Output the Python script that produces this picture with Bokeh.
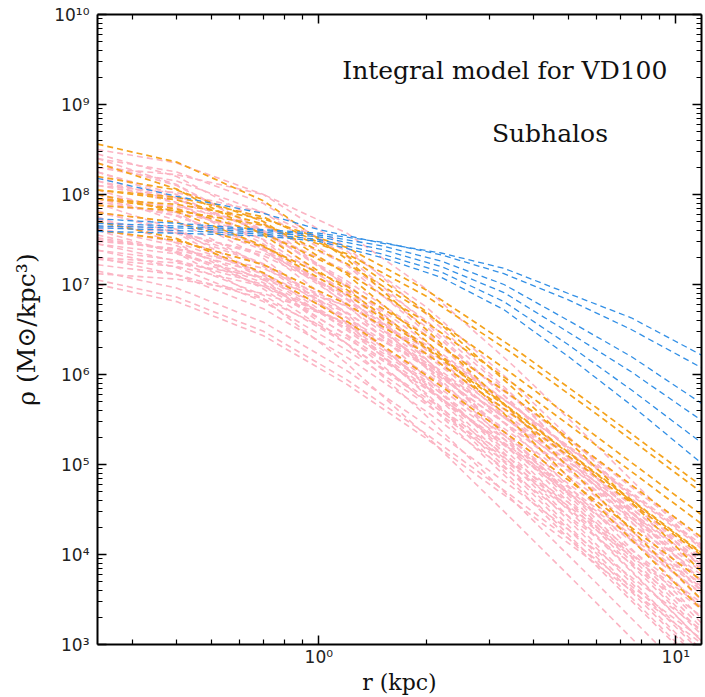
import numpy as np
from bokeh.plotting import figure
from bokeh.models import LogAxis, FixedTicker, CustomJSTickFormatter, Label, Range1d
from bokeh.embed import file_html
from bokeh.resources import INLINE

r_model = [0.24, 0.4, 0.7, 1.2, 2.0, 3.5, 6.0, 12.0]
r_blue = [0.24, 0.4, 0.7, 1.0, 1.5, 2.2, 3.3, 5.0, 7.5, 12.0]

# log10 density (Msun/kpc^3), pink subhalos
pink_log_rho = [
    [8.50, 8.35, 8.00, 7.41, 6.67, 5.77, 4.85, 3.66],
    [8.45, 8.20, 7.69, 6.97, 6.17, 5.23, 4.31, 3.11],
    [8.40, 8.11, 7.60, 6.99, 6.36, 5.65, 4.95, 4.05],
    [8.30, 8.22, 8.00, 7.57, 6.95, 6.10, 5.21, 4.03],
    [8.30, 8.15, 7.80, 7.21, 6.47, 5.57, 4.65, 3.46],
    [8.25, 8.00, 7.49, 6.77, 5.97, 5.03, 4.11, 2.91],
    [8.20, 7.91, 7.40, 6.79, 6.16, 5.45, 4.75, 3.85],
    [8.15, 7.96, 7.58, 7.04, 6.44, 5.74, 5.04, 4.14],
    [8.10, 8.02, 7.80, 7.37, 6.75, 5.90, 5.01, 3.83],
    [8.10, 7.95, 7.60, 7.01, 6.27, 5.37, 4.45, 3.26],
    [8.05, 7.80, 7.29, 6.57, 5.77, 4.83, 3.91, 2.71],
    [7.80, 7.69, 7.42, 6.98, 6.43, 5.75, 5.06, 4.17],
    [8.00, 7.71, 7.20, 6.59, 5.96, 5.25, 4.55, 3.65],
    [7.95, 7.76, 7.38, 6.84, 6.24, 5.54, 4.84, 3.94],
    [7.92, 7.77, 7.42, 6.83, 6.09, 5.19, 4.27, 3.08],
    [7.88, 7.80, 7.58, 7.15, 6.53, 5.68, 4.79, 3.61],
    [7.70, 7.59, 7.32, 6.88, 6.33, 5.65, 4.96, 4.07],
    [7.82, 7.57, 7.06, 6.34, 5.54, 4.60, 3.68, 2.48],
    [7.80, 7.61, 7.23, 6.69, 6.09, 5.39, 4.69, 3.79],
    [7.75, 7.46, 6.95, 6.34, 5.71, 5.00, 4.30, 3.40],
    [7.72, 7.57, 7.22, 6.63, 5.89, 4.99, 4.07, 2.88],
    [7.60, 7.49, 7.22, 6.78, 6.23, 5.55, 4.86, 3.97],
    [7.65, 7.57, 7.35, 6.92, 6.30, 5.45, 4.56, 3.38],
    [7.62, 7.43, 7.05, 6.51, 5.91, 5.21, 4.51, 3.61],
    [7.60, 7.35, 6.84, 6.12, 5.32, 4.38, 3.46, 2.26],
    [7.50, 7.39, 7.12, 6.68, 6.13, 5.45, 4.76, 3.87],
    [7.52, 7.37, 7.02, 6.43, 5.69, 4.79, 3.87, 2.68],
    [7.45, 7.26, 6.88, 6.34, 5.74, 5.04, 4.34, 3.44],
    [7.30, 7.24, 7.08, 6.76, 6.29, 5.65, 4.98, 4.09],
    [7.38, 7.27, 7.00, 6.56, 6.01, 5.33, 4.64, 3.75],
    [7.30, 7.11, 6.73, 6.19, 5.59, 4.89, 4.19, 3.29],
    [7.28, 7.20, 6.98, 6.55, 5.93, 5.08, 4.19, 3.01],
    [7.22, 7.11, 6.84, 6.40, 5.85, 5.17, 4.48, 3.59],
    [7.15, 6.96, 6.58, 6.04, 5.44, 4.74, 4.04, 3.14],
    [7.12, 7.06, 6.90, 6.58, 6.11, 5.47, 4.80, 3.91],
    [7.05, 6.86, 6.48, 5.94, 5.34, 4.64, 3.94, 3.04],
    [7.00, 6.81, 6.43, 5.89, 5.29, 4.59, 3.89, 2.99],
    [8.40, 8.25, 7.90, 7.31, 6.57, 5.67, 4.75, 3.56],
    [8.35, 8.10, 7.59, 6.87, 6.07, 5.13, 4.21, 3.01],
    [8.25, 7.96, 7.45, 6.84, 6.21, 5.50, 4.80, 3.90],
    [7.95, 7.87, 7.65, 7.22, 6.60, 5.75, 4.86, 3.68],
    [7.70, 7.51, 7.13, 6.59, 5.99, 5.29, 4.59, 3.69],
    [7.62, 7.47, 7.12, 6.53, 5.79, 4.89, 3.97, 2.78],
    [7.45, 7.34, 7.07, 6.63, 6.08, 5.40, 4.71, 3.82],
    [7.90, 7.61, 7.10, 6.49, 5.86, 5.15, 4.45, 3.55],
    [8.15, 7.90, 7.39, 6.67, 5.87, 4.93, 4.01, 2.81],
    [7.38, 7.19, 6.81, 6.27, 5.67, 4.97, 4.27, 3.37],
    [7.48, 7.40, 7.18, 6.75, 6.13, 5.28, 4.39, 3.21],
    [8.00, 7.85, 7.50, 6.91, 6.17, 5.27, 4.35, 3.16],
    [7.55, 7.36, 6.98, 6.44, 5.84, 5.14, 4.44, 3.54],
]

# log10 density, orange subhalos
orange_log_rho = [
    [8.56, 8.36, 7.93, 7.28, 6.50, 5.58, 4.66, 3.47],
    [8.35, 8.06, 7.55, 6.94, 6.31, 5.60, 4.90, 4.00],
    [7.95, 7.89, 7.73, 7.41, 6.94, 6.30, 5.63, 4.74],
    [8.05, 7.94, 7.67, 7.23, 6.68, 6.00, 5.31, 4.42],
    [7.88, 7.82, 7.66, 7.34, 6.87, 6.23, 5.56, 4.67],
    [7.80, 7.69, 7.42, 6.98, 6.43, 5.75, 5.06, 4.17],
    [8.00, 7.81, 7.43, 6.89, 6.29, 5.59, 4.89, 3.99],
    [7.95, 7.84, 7.57, 7.13, 6.58, 5.90, 5.21, 4.32],
    [8.05, 7.97, 7.75, 7.32, 6.70, 5.85, 4.96, 3.78],
    [8.20, 8.05, 7.70, 7.11, 6.37, 5.47, 4.55, 3.36],
    [7.70, 7.51, 7.13, 6.59, 5.99, 5.29, 4.59, 3.69],
    [7.60, 7.49, 7.22, 6.78, 6.23, 5.55, 4.86, 3.97],
]

# log10 density, blue subhalos
blue_log_rho = [
    [8.18, 7.98, 7.79, 7.61, 7.46, 7.35, 7.18, 6.90, 6.63, 6.20],
    [7.73, 7.68, 7.61, 7.57, 7.47, 7.33, 7.12, 6.83, 6.50, 6.06],
    [7.68, 7.65, 7.60, 7.55, 7.43, 7.26, 7.00, 6.60, 6.20, 5.66],
    [7.65, 7.63, 7.58, 7.53, 7.39, 7.20, 6.91, 6.47, 6.03, 5.47],
    [7.63, 7.60, 7.56, 7.50, 7.34, 7.14, 6.81, 6.33, 5.83, 5.22],
    [7.59, 7.57, 7.54, 7.48, 7.30, 7.08, 6.72, 6.20, 5.66, 4.99],
]

x_major = [1, 10]
x_minor = [0.3, 0.4, 0.5, 0.6, 0.7, 0.8, 0.9, 2, 3, 4, 5, 6, 7, 8, 9]
y_major = [10.0 ** k for k in range(3, 11)]
y_minor = [m * 10.0 ** k for k in range(3, 10) for m in range(2, 10)]

PINK = "#fbb5c4"
ORANGE = "#f4a31e"
BLUE = "#3390e6"

p = figure(
    width=705, height=697,
    x_axis_type="log", y_axis_type="log",
    x_range=Range1d(0.24, 11.8), y_range=Range1d(1e3, 1e10),
    output_backend="svg", toolbar_location=None,
    min_border_left=97, min_border_right=3, min_border_top=14, min_border_bottom=50,
)
p.background_fill_color = "white"
p.border_fill_color = "white"
p.outline_line_color = None
p.xgrid.visible = False
p.ygrid.visible = False

for row in pink_log_rho:
    p.line(r_model, [10.0 ** v for v in row], line_color=PINK, line_width=1.6,
           line_dash="6 4")
for row in orange_log_rho:
    p.line(r_model, [10.0 ** v for v in row], line_color=ORANGE, line_width=1.7,
           line_dash="6 4")
for row in blue_log_rho:
    p.line(r_blue, [10.0 ** v for v in row], line_color=BLUE, line_width=1.3,
           line_dash="6 4")

fmt = CustomJSTickFormatter(code="""
const sup = {"0":"\u2070","1":"\u00b9","2":"\u00b2","3":"\u00b3","4":"\u2074",
             "5":"\u2075","6":"\u2076","7":"\u2077","8":"\u2078","9":"\u2079","-":"\u207b"};
const e = Math.round(Math.log10(tick));
return "10" + String(e).split("").map(c => sup[c]).join("");
""")
blank = CustomJSTickFormatter(code="return ' ';")


def style(ax, labels=True):
    ax.axis_line_color = "black"
    ax.axis_line_width = 2
    ax.major_tick_line_color = "black"
    ax.minor_tick_line_color = "black"
    ax.major_tick_line_width = 1.5
    ax.minor_tick_line_width = 1.2
    ax.major_tick_in = 9
    ax.major_tick_out = 0
    ax.minor_tick_in = 5
    ax.minor_tick_out = 0
    if labels:
        ax.major_label_text_font = "DejaVu Sans"
        ax.major_label_text_font_size = "17px"
        ax.major_label_text_color = "#222222"
        ax.formatter = fmt
    else:
        ax.formatter = blank
        ax.major_label_text_font_size = "2px"
        ax.major_label_text_color = "white"
        ax.major_label_standoff = 0


xa = p.xaxis[0]
xa.ticker = FixedTicker(ticks=x_major, minor_ticks=x_minor)
style(xa)
xa.major_label_standoff = 2
xa.axis_label = "r (kpc)"
xa.axis_label_text_font = "DejaVu Serif"
xa.axis_label_text_font_style = "normal"
xa.axis_label_text_font_size = "22px"
xa.axis_label_text_color = "#111111"
xa.axis_label_standoff = 0

ya = p.yaxis[0]
ya.ticker = FixedTicker(ticks=y_major, minor_ticks=y_minor)
style(ya)
ya.major_label_standoff = 8
ya.axis_label = "\u03c1 (M\u2299/kpc\u00b3)"
ya.axis_label_text_font = "DejaVu Serif"
ya.axis_label_text_font_style = "normal"
ya.axis_label_text_font_size = "25px"
ya.axis_label_text_color = "#111111"
ya.axis_label_standoff = 10

top = LogAxis(ticker=FixedTicker(ticks=x_major, minor_ticks=x_minor))
style(top, labels=False)
p.add_layout(top, "above")
right = LogAxis(ticker=FixedTicker(ticks=y_major, minor_ticks=y_minor))
style(right, labels=False)
p.add_layout(right, "right")

p.add_layout(Label(x=3.32, y=2.38e9, text="Integral model for VD100",
                   text_align="center", text_baseline="alphabetic",
                   text_font="DejaVu Serif", text_font_size="25px",
                   text_color="#111111"))
p.add_layout(Label(x=4.44, y=4.8e8, text="Subhalos",
                   text_align="center", text_baseline="alphabetic",
                   text_font="DejaVu Serif", text_font_size="25px",
                   text_color="#111111"))

open("out.html", "w").write(file_html(p, INLINE))
